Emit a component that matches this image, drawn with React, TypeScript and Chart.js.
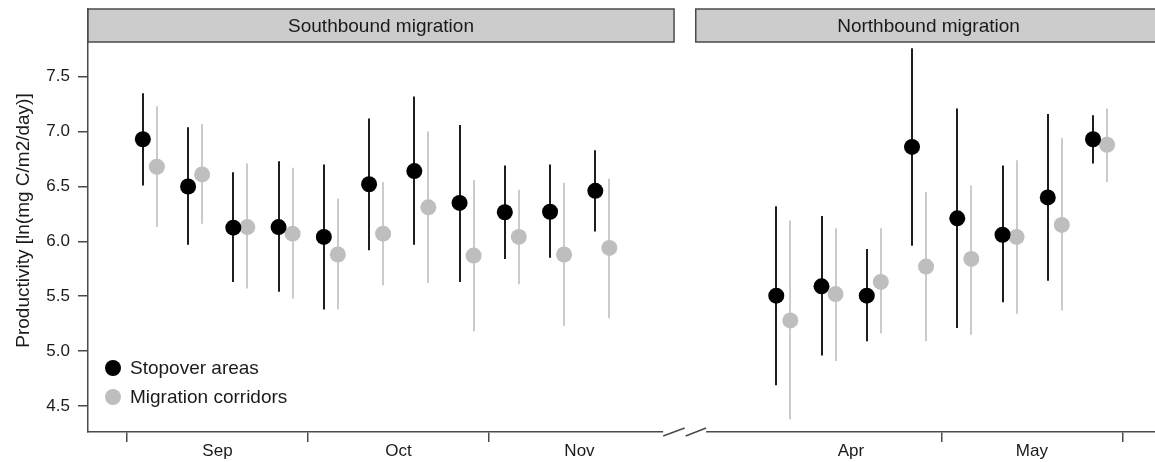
import React, { useEffect, useRef } from 'react';
import { Chart, registerables, ScatterController } from 'chart.js';
Chart.register(...registerables);

// scatter controller that does not reserve extra padding for point overflow
class DotScatterController extends (ScatterController as any) {
  getMaxOverflow() {
    return 0;
  }
}
(DotScatterController as any).id = 'dotScatter';
(DotScatterController as any).defaults = (ScatterController as any).defaults;
(DotScatterController as any).overrides = (ScatterController as any).overrides;
Chart.register(DotScatterController as any);

// ---- data ----
const monthLabels = ['Sep', 'Oct', 'Nov', 'Apr', 'May'];
const monthLabelPos = [2, 6, 10, 16, 20];
const monthTickPos = [0, 4, 8, 18, 22];
const yTicks = [4.5, 5.0, 5.5, 6.0, 6.5, 7.0, 7.5];
const panelTitles = ['Southbound migration', 'Northbound migration'];
const seriesNames = ['Stopover areas', 'Migration corridors'];

const southWeek = [0, 1, 2, 3, 4, 5, 6, 7, 8, 9, 10];
const southStopMean = [6.93, 6.5, 6.125, 6.13, 6.04, 6.52, 6.64, 6.35, 6.265, 6.27, 6.46];
const southStopLo = [6.51, 5.97, 5.63, 5.54, 5.38, 5.92, 5.97, 5.63, 5.84, 5.85, 6.09];
const southStopHi = [7.35, 7.04, 6.63, 6.73, 6.7, 7.12, 7.32, 7.06, 6.69, 6.7, 6.83];
const southCorrMean = [6.68, 6.61, 6.13, 6.07, 5.88, 6.07, 6.31, 5.87, 6.04, 5.88, 5.94];
const southCorrLo = [6.13, 6.16, 5.57, 5.48, 5.38, 5.6, 5.62, 5.18, 5.61, 5.23, 5.3];
const southCorrHi = [7.23, 7.07, 6.71, 6.67, 6.39, 6.54, 7.0, 6.56, 6.47, 6.535, 6.57];

const northWeek = [14, 15, 16, 17, 18, 19, 20, 21];
const northStopMean = [5.505, 5.59, 5.505, 6.86, 6.21, 6.06, 6.4, 6.93];
const northStopLo = [4.69, 4.96, 5.09, 5.96, 5.21, 5.445, 5.64, 6.71];
const northStopHi = [6.32, 6.23, 5.93, 7.76, 7.21, 6.69, 7.16, 7.15];
const northCorrMean = [5.28, 5.52, 5.63, 5.77, 5.84, 6.04, 6.15, 6.88];
const northCorrLo = [4.38, 4.91, 5.16, 5.09, 5.15, 5.34, 5.37, 6.54];
const northCorrHi = [6.19, 6.12, 6.12, 6.45, 6.51, 6.74, 6.94, 7.21];

// ---- layout / style ----
const STOP_OFFSET = 0.35;
const CORR_OFFSET = 0.66;
const X_MIN = -0.862;
const X_MAX = 22.72;
const Y_MIN = 4.263;
const Y_MAX = 8.117;
const STRIP_H = 33;
const SOUTH_STRIP = [X_MIN, 12.09];
const NORTH_STRIP = [12.57, 22.86];
const BREAK_GAP = [11.85, 12.8];
const FONT = '"Liberation Sans", Arial, sans-serif';
const BLACK = '#000000';
const GREY = '#bebebe';
const BLACK_WHISKER = '#1e1e1e';
const GREY_WHISKER = '#cbcbcb';
const AXIS = '#4a4a4a';
const TEXT = '#1a1a1a';

const stopPoints = [
  ...southWeek.map((w, i) => ({ x: w + STOP_OFFSET, y: southStopMean[i], lo: southStopLo[i], hi: southStopHi[i] })),
  ...northWeek.map((w, i) => ({ x: w + STOP_OFFSET, y: northStopMean[i], lo: northStopLo[i], hi: northStopHi[i] })),
];
const corrPoints = [
  ...southWeek.map((w, i) => ({ x: w + CORR_OFFSET, y: southCorrMean[i], lo: southCorrLo[i], hi: southCorrHi[i] })),
  ...northWeek.map((w, i) => ({ x: w + CORR_OFFSET, y: northCorrMean[i], lo: northCorrLo[i], hi: northCorrHi[i] })),
];

const whiskerPlugin = {
  id: 'whiskers',
  beforeDatasetsDraw(chart: any) {
    const { ctx, scales } = chart;
    const xs = scales.x;
    const ys = scales.y;
    const draw = (pts: any[], color: string) => {
      ctx.save();
      ctx.strokeStyle = color;
      ctx.lineWidth = 2;
      pts.forEach((p) => {
        const px = Math.round(xs.getPixelForValue(p.x));
        ctx.beginPath();
        ctx.moveTo(px, ys.getPixelForValue(p.lo));
        ctx.lineTo(px, ys.getPixelForValue(p.hi));
        ctx.stroke();
      });
      ctx.restore();
    };
    draw(corrPoints, GREY_WHISKER);
    draw(stopPoints, BLACK_WHISKER);
  },
};

const decorPlugin = {
  id: 'decor',
  afterDraw(chart: any) {
    const { ctx, chartArea, scales } = chart;
    const xs = scales.x;
    // strips
    const strips = [SOUTH_STRIP, NORTH_STRIP];
    strips.forEach((s, i) => {
      const x0 = xs.getPixelForValue(s[0]);
      const x1 = xs.getPixelForValue(s[1]);
      const y0 = chartArea.top;
      ctx.save();
      ctx.fillStyle = '#cccccc';
      ctx.fillRect(x0, y0, x1 - x0, STRIP_H);
      ctx.strokeStyle = AXIS;
      ctx.lineWidth = 1.5;
      ctx.strokeRect(x0, y0, x1 - x0, STRIP_H);
      ctx.fillStyle = TEXT;
      ctx.font = `19px ${FONT}`;
      ctx.textAlign = 'center';
      ctx.textBaseline = 'middle';
      ctx.fillText(panelTitles[i], (x0 + x1) / 2, y0 + STRIP_H / 2 + 1);
      ctx.restore();
    });
    // axis break
    const g0 = xs.getPixelForValue(BREAK_GAP[0]);
    const g1 = xs.getPixelForValue(BREAK_GAP[1]);
    const yb = chartArea.bottom;
    ctx.save();
    ctx.fillStyle = '#ffffff';
    ctx.fillRect(g0, yb - 2, g1 - g0, 4);
    ctx.strokeStyle = AXIS;
    ctx.lineWidth = 1.5;
    const mid = (g0 + g1) / 2;
    ctx.beginPath();
    ctx.moveTo(g0, yb + 4);
    ctx.lineTo(mid, yb - 4);
    ctx.moveTo(mid + 1, yb + 4);
    ctx.lineTo(g1, yb - 4);
    ctx.stroke();
    ctx.restore();
    // legend
    const lx = chartArea.left + 25;
    const ly = chartArea.bottom - 64;
    const colors = [BLACK, GREY];
    ctx.save();
    ctx.font = `19px ${FONT}`;
    ctx.textBaseline = 'middle';
    ctx.textAlign = 'left';
    colors.forEach((c, i) => {
      const cy = ly + i * 29;
      ctx.fillStyle = c;
      ctx.beginPath();
      ctx.arc(lx, cy, 8, 0, Math.PI * 2);
      ctx.fill();
      ctx.fillStyle = TEXT;
      ctx.fillText(seriesNames[i], lx + 17, cy + 1);
    });
    ctx.restore();
  },
};

export default function App() {
  const ref = useRef<HTMLCanvasElement>(null);
  useEffect(() => {
    document.body.style.margin = '0';
    const canvas = ref.current!;
    const chart = new Chart(canvas, {
      type: 'dotScatter' as any,
      data: {
        datasets: [
          {
            label: seriesNames[0],
            data: stopPoints,
            backgroundColor: BLACK,
            borderWidth: 0,
            pointRadius: 8,
            pointHoverRadius: 8,
          },
          {
            label: seriesNames[1],
            data: corrPoints,
            backgroundColor: GREY,
            borderWidth: 0,
            pointRadius: 8,
            pointHoverRadius: 8,
          },
        ],
      },
      options: {
        animation: false,
        responsive: false,
        devicePixelRatio: 1,
        layout: { padding: { top: 9, right: 0, left: 0, bottom: 0 } },
        plugins: { legend: { display: false }, tooltip: { enabled: false } },
        scales: {
          x: {
            type: 'linear',
            min: X_MIN,
            max: X_MAX,
            afterFit(scale: any) {
              scale.height = 30;
              scale.paddingLeft = 0;
              scale.paddingRight = 0;
            },
            afterBuildTicks(scale: any) {
              scale.ticks = [...monthTickPos, ...monthLabelPos]
                .sort((a, b) => a - b)
                .map((v) => ({ value: v }));
            },
            ticks: {
              autoSkip: false,
              maxRotation: 0,
              padding: -1,
              color: TEXT,
              font: { family: FONT, size: 17 },
              callback(v: any) {
                const i = monthLabelPos.indexOf(Number(v));
                return i >= 0 ? monthLabels[i] : '';
              },
            },
            grid: {
              drawOnChartArea: false,
              drawTicks: true,
              tickLength: 10,
              lineWidth: 1.5,
              color: (c: any) =>
                c.tick && monthLabelPos.includes(c.tick.value) ? 'rgba(0,0,0,0)' : AXIS,
            },
            border: { display: true, color: AXIS, width: 1.5 },
          },
          y: {
            type: 'linear',
            min: Y_MIN,
            max: Y_MAX,
            afterFit(scale: any) {
              scale.width = 88;
              scale.paddingTop = 0;
              scale.paddingBottom = 0;
            },
            afterBuildTicks(scale: any) {
              scale.ticks = yTicks.map((v) => ({ value: v }));
            },
            ticks: {
              padding: 8,
              color: TEXT,
              font: { family: FONT, size: 17 },
              callback(v: any) {
                return Number(v).toFixed(1);
              },
            },
            grid: {
              drawOnChartArea: false,
              drawTicks: true,
              tickLength: 10,
              lineWidth: 1.5,
              color: AXIS,
            },
            border: { display: true, color: AXIS, width: 1.5 },
            title: {
              display: true,
              text: 'Productivity [ln(mg C/m2/day)]',
              color: TEXT,
              font: { family: FONT, size: 19 },
              padding: { top: 12, bottom: 0 },
            },
          },
        },
      },
      plugins: [whiskerPlugin, decorPlugin],
    });
    return () => chart.destroy();
  }, []);
  return <canvas ref={ref} width={1155} height={462} style={{ display: 'block' }} />;
}
